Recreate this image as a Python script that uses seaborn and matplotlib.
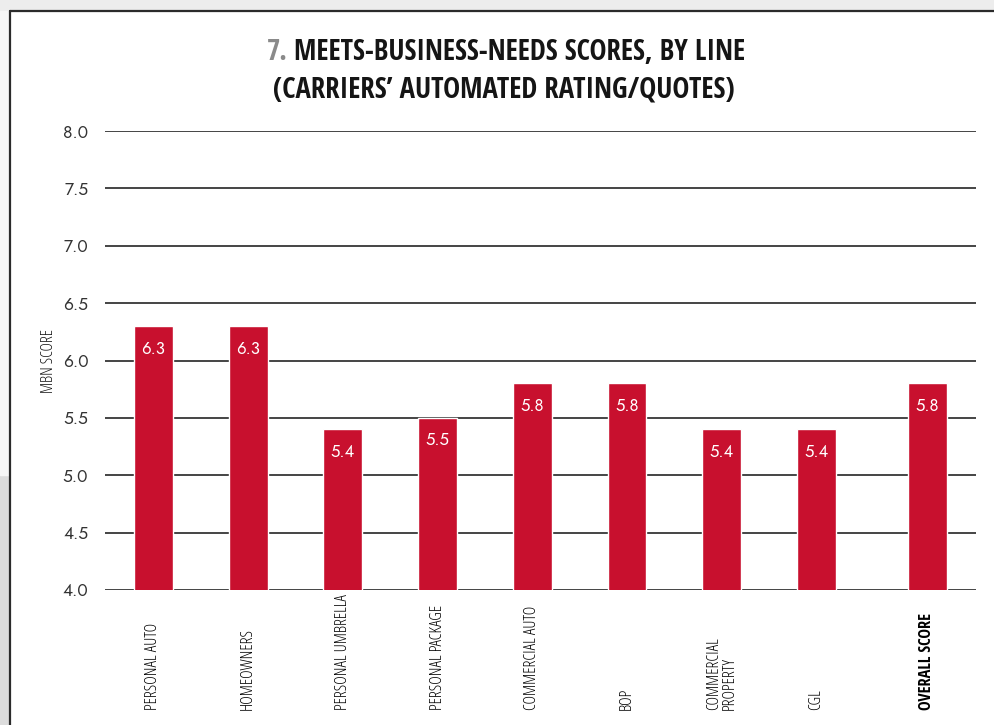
import matplotlib
matplotlib.use("Agg")
import matplotlib.pyplot as plt
from matplotlib.transforms import blended_transform_factory
from matplotlib.patches import Rectangle
from matplotlib.lines import Line2D
import seaborn as sns
import pandas as pd

# Chart data
categories = ["PERSONAL AUTO", "HOMEOWNERS", "PERSONAL UMBRELLA", "PERSONAL PACKAGE",
              "COMMERCIAL AUTO", "BOP", "COMMERCIAL\nPROPERTY", "CGL", "OVERALL SCORE"]
scores = [6.3, 6.3, 5.4, 5.5, 5.8, 5.8, 5.4, 5.4, 5.8]
positions = [0, 1, 2, 3, 4, 5, 6, 7, 8.17]
y_ticks = [4.0, 4.5, 5.0, 5.5, 6.0, 6.5, 7.0, 7.5, 8.0]

BAR_RED = "#C8102E"
GRID = "#444444"
LIGHT_COND = dict(family=["Open Sans", "IBM Plex Sans Condensed", "DejaVu Sans"],
                  fontstretch="condensed", fontweight=300)
BOLD_COND = dict(family=["Open Sans Condensed", "IBM Plex Sans Condensed", "DejaVu Sans"],
                 fontstretch="condensed", fontweight=700)

sns.set_theme(style="white")
plt.rcParams["font.family"] = ["Jost", "Lato", "DejaVu Sans"]

df = pd.DataFrame({"pos": positions, "score": scores, "line": categories})

fig = plt.figure(figsize=(9.94, 7.25), dpi=100)
ax = fig.add_axes([105 / 994, 135 / 725, 871 / 994, 459 / 725])
renderer = fig.canvas.get_renderer()


def fitted_size(text, target_px, base=12, **kw):
    """Font size that makes `text` about target_px long."""
    t = fig.text(0, 0, text, fontsize=base, **kw)
    w = t.get_window_extent(renderer).width
    t.remove()
    return base * target_px / w


sns.barplot(data=df, x="pos", y="score", native_scale=True, color=BAR_RED,
            saturation=1, width=0.41, ax=ax, zorder=3)

ax.set_ylim(4.0, 8.0)
ax.set_xlim(-0.512, 8.685)
ax.set_yticks(y_ticks)
ax.set_yticklabels([f"{v:.1f}" for v in y_ticks], fontsize=12.5, color="#333333")
ax.tick_params(axis="y", length=0, pad=12)
ax.set_xticks([])
for v in y_ticks:
    ax.axhline(v, color=GRID, lw=1.4, zorder=1)
for s in ax.spines.values():
    s.set_visible(False)
ax.set_xlabel("")
ax.set_ylabel("")

# Axis title
mbn_size = fitted_size("MBN SCORE", 64, **LIGHT_COND)
fig.text(49 / 994, 1 - 361 / 725, "MBN SCORE", rotation=90, ha="center", va="center",
         fontsize=mbn_size, color="#111111", **LIGHT_COND)

# Value labels inside bar tops
for p, v in zip(positions, scores):
    ax.text(p, v - 0.2, f"{v:.1f}", ha="center", va="center", color="white",
            fontsize=12, zorder=4)

# Category labels, rotated and bottom-aligned
cat_size = fitted_size("PERSONAL UMBRELLA", 116, **LIGHT_COND)
trans = blended_transform_factory(ax.transData, fig.transFigure)
for p, name in zip(positions, categories):
    style = BOLD_COND if name == "OVERALL SCORE" else LIGHT_COND
    ax.text(p, 15 / 725, name, rotation=90, ha="center", va="bottom",
            fontsize=cat_size, color="#000000", multialignment="left",
            linespacing=1.0, transform=trans, clip_on=False, **style)

# Title: grey chart number followed by the heading
line1_num = "7."
line1 = "MEETS-BUSINESS-NEEDS SCORES, BY LINE"
line2 = "(CARRIERS\u2019 AUTOMATED RATING/QUOTES)"
title_size = fitted_size(line1_num + " " + line1, 479, **BOLD_COND)
t_num = fig.text(267 / 994, 1 - 52.5 / 725, line1_num, fontsize=title_size,
                 color="#8a8a8a", ha="left", va="center", **BOLD_COND)
bb = t_num.get_window_extent(renderer)
fig.text(bb.x1 / 994 + 0.006, 1 - 52.5 / 725, line1, fontsize=title_size,
         color="#151515", ha="left", va="center", **BOLD_COND)
fig.text(504 / 994, 1 - 90 / 725, line2, fontsize=title_size,
         color="#151515", ha="center", va="center", **BOLD_COND)

# Page frame around the chart
fig.patches.append(Rectangle((0, 1 - 11 / 725), 1, 11 / 725, transform=fig.transFigure,
                             color="#ededed", zorder=0))
fig.patches.append(Rectangle((0, 0), 9 / 994, 250 / 725, transform=fig.transFigure,
                             color="#dcdcdc", zorder=0))
fig.patches.append(Rectangle((0, 250 / 725), 9 / 994, 464 / 725, transform=fig.transFigure,
                             color="#f6f6f6", zorder=0))
fig.lines.append(Line2D([9.5 / 994, 9.5 / 994], [0, 1 - 11 / 725], transform=fig.transFigure,
                        color="#2b2b2b", lw=1.6))
fig.lines.append(Line2D([9.5 / 994, 1], [1 - 11 / 725, 1 - 11 / 725], transform=fig.transFigure,
                        color="#2b2b2b", lw=1.6))

fig.savefig("out.png", dpi=100)
